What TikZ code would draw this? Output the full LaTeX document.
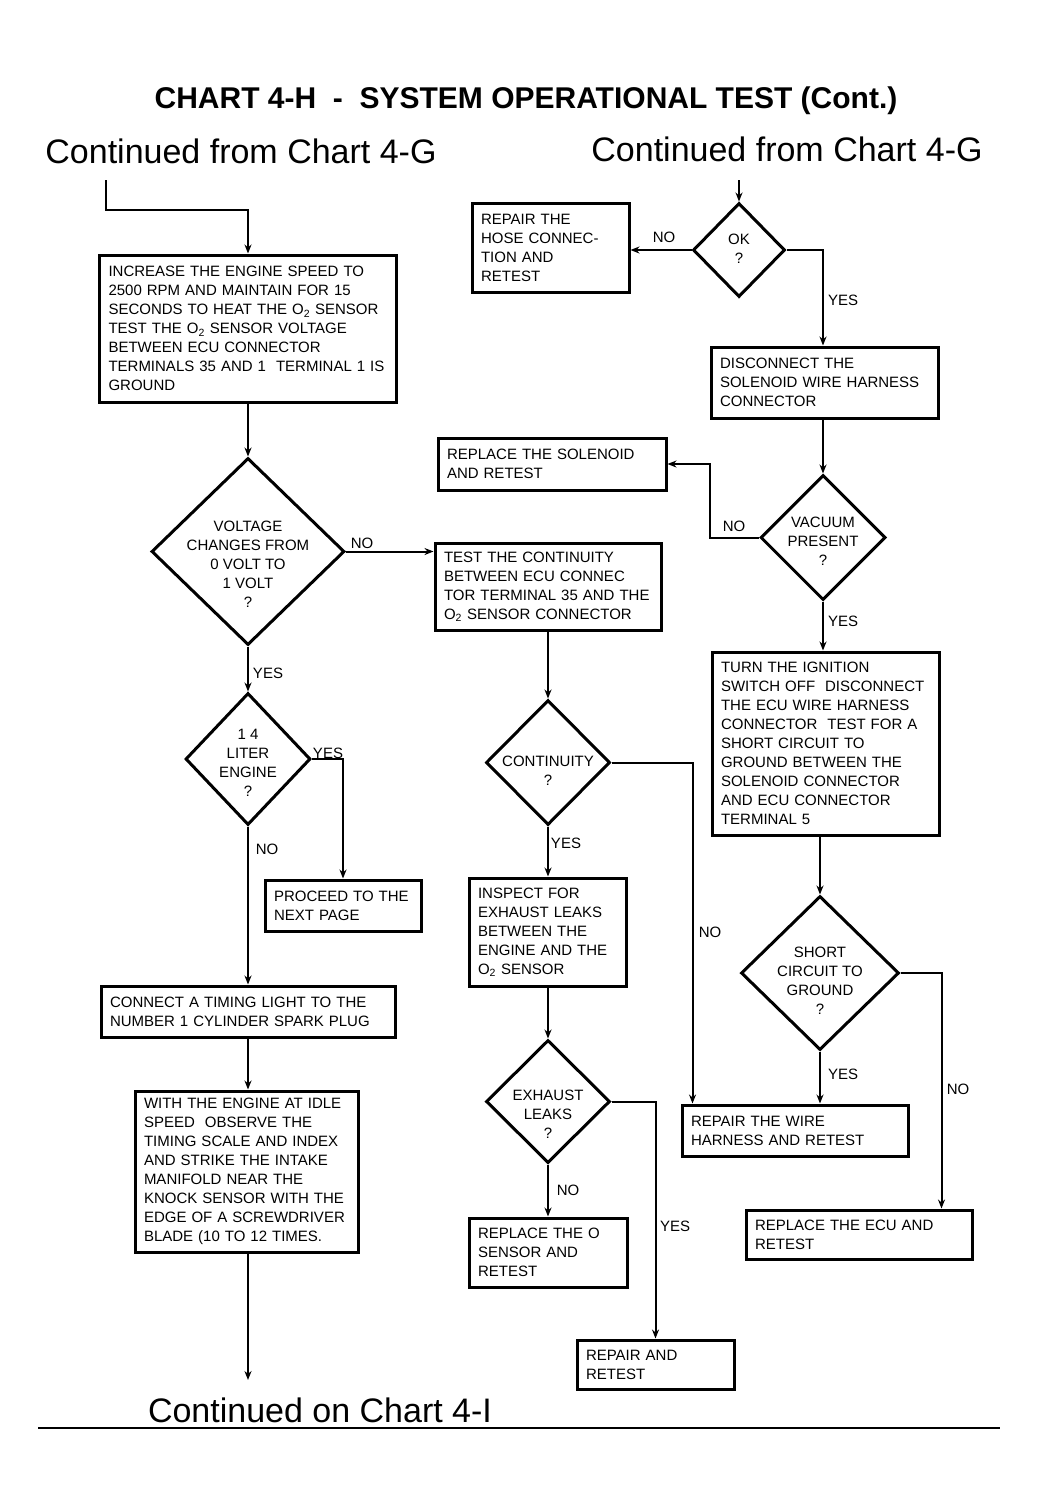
\documentclass[tikz,border=0pt]{standalone}
\usepackage{fontspec}
\setmainfont{Liberation Sans}
\usetikzlibrary{shapes.geometric,arrows.meta,calc}
\tikzset{
  boxtext/.style={font=\fontsize{15}{19}\selectfont},
  box/.style={draw, line width=3pt, rectangle, align=left, inner xsep=9pt, inner ysep=0pt, boxtext},
  dia/.style={draw, line width=3pt, diamond, inner sep=0pt},
  dtext/.style={align=center, boxtext, inner sep=0pt},
  lbl/.style={boxtext, inner sep=0pt},
  conn/.style={line width=2pt},
  arr/.style={conn, -{Stealth[length=9pt,width=7pt]}},
  bigtext/.style={font=\fontsize{34}{40}\selectfont, inner sep=0pt},
}
\begin{document}
\begin{tikzpicture}[x=1pt,y=-1pt]
\useasboundingbox (0,0) rectangle (1039,1504);
\fill[white] (0,0) rectangle (1039,1504);

% titles
\node[font=\fontsize{30}{36}\selectfont\bfseries, inner sep=0pt] (title) at (526,101) {CHART 4-H \ - \ SYSTEM OPERATIONAL TEST (Cont.)};
\node[bigtext] (cl) at (241,151) {Continued from Chart 4-G};
\node[bigtext] (cr) at (787,149) {Continued from Chart 4-G};
\node[bigtext] (cb) at (320,1410) {Continued on Chart 4-I};
\coordinate (r1) at (38,1428);
\coordinate (r2) at (1000,1428);
\draw[line width=1.2pt] (r1) -- (r2);

% left column
\coordinate (s1) at (106,180);
\node[box, minimum width=297pt, minimum height=147pt, text width=279pt] (A) at (248,328.5) {INCREASE THE ENGINE SPEED TO\\2500 RPM AND MAINTAIN FOR 15\\SECONDS TO HEAT THE O\textsubscript{2} SENSOR\\TEST THE O\textsubscript{2} SENSOR VOLTAGE\\BETWEEN ECU CONNECTOR\\TERMINALS 35 AND 1 \ TERMINAL 1 IS\\GROUND};
\node[dia, minimum width=193pt, minimum height=187pt] (V) at (248,551.5) {};
\node[dtext] (Vt) at (248,564) {VOLTAGE\\CHANGES FROM\\0 VOLT TO\\1 VOLT\\?};
\node[dia, minimum width=125pt, minimum height=132pt] (L) at (248,759) {};
\node[dtext] (Lt) at (248,763) {1 4\\LITER\\ENGINE\\?};
\node[box, minimum width=156pt, minimum height=51pt, text width=138pt] (P) at (343,905.5) {PROCEED TO THE\\NEXT PAGE};
\node[box, minimum width=294pt, minimum height=51pt, text width=276pt] (C) at (248,1011.5) {CONNECT A TIMING LIGHT TO THE\\NUMBER 1 CYLINDER SPARK PLUG};
\node[box, minimum width=223pt, minimum height=161pt, text width=205pt] (W) at (246.5,1171.5) {WITH THE ENGINE AT IDLE\\SPEED \ OBSERVE THE\\TIMING SCALE AND INDEX\\AND STRIKE THE INTAKE\\MANIFOLD NEAR THE\\KNOCK SENSOR WITH THE\\EDGE OF A SCREWDRIVER\\BLADE (10 TO 12 TIMES.};
\coordinate (e1) at (248,1380);

% middle column
\node[box, minimum width=226pt, minimum height=87pt, text width=208pt] (T) at (548,586.5) {TEST THE CONTINUITY\\BETWEEN ECU CONNEC\\TOR TERMINAL 35 AND THE\\O\textsubscript{2} SENSOR CONNECTOR};
\node[dia, minimum width=124pt, minimum height=125pt] (Co) at (548,762.5) {};
\node[dtext] (Cot) at (548,771) {CONTINUITY\\?};
\node[box, minimum width=157pt, minimum height=108pt, text width=139pt] (I) at (547.5,932) {INSPECT FOR\\EXHAUST LEAKS\\BETWEEN THE\\ENGINE AND THE\\O\textsubscript{2} SENSOR};
\node[dia, minimum width=124pt, minimum height=123pt] (E) at (548,1101.5) {};
\node[dtext] (Et) at (548,1114) {EXHAUST\\LEAKS\\?};
\node[box, minimum width=158pt, minimum height=69pt, text width=140pt] (RO) at (548,1252.5) {REPLACE THE O\\SENSOR AND\\RETEST};
\node[box, minimum width=157pt, minimum height=49pt, text width=139pt] (RA) at (655.5,1364.5) {REPAIR AND\\RETEST};

% right column
\coordinate (s2) at (739,180);
\node[dia, minimum width=92pt, minimum height=94pt] (OK) at (739,250) {};
\node[dtext] (OKt) at (739,249) {OK\\?};
\node[box, minimum width=157pt, minimum height=89pt, text width=139pt] (H) at (550.5,247.5) {REPAIR THE\\HOSE CONNEC-\\TION AND\\RETEST};
\node[box, minimum width=227pt, minimum height=71pt, text width=209pt] (D) at (824.5,382.5) {DISCONNECT THE\\SOLENOID WIRE HARNESS\\CONNECTOR};
\node[box, minimum width=228pt, minimum height=52pt, text width=210pt] (RS) at (552,464) {REPLACE THE SOLENOID\\AND RETEST};
\node[dia, minimum width=125pt, minimum height=125pt] (Va) at (823,537.5) {};
\node[dtext] (Vat) at (823,541) {VACUUM\\PRESENT\\?};
\node[box, minimum width=227pt, minimum height=183pt, text width=209pt] (TI) at (825.5,743.5) {TURN THE IGNITION\\SWITCH OFF \ DISCONNECT\\THE ECU WIRE HARNESS\\CONNECTOR \ TEST FOR A\\SHORT CIRCUIT TO\\GROUND BETWEEN THE\\SOLENOID CONNECTOR\\AND ECU CONNECTOR\\TERMINAL 5};
\node[dia, minimum width=158pt, minimum height=154pt] (S) at (820,973) {};
\node[dtext] (St) at (820,981) {SHORT\\CIRCUIT TO\\GROUND\\?};
\node[box, minimum width=226pt, minimum height=51pt, text width=208pt] (RW) at (795,1130.5) {REPAIR THE WIRE\\HARNESS AND RETEST};
\node[box, minimum width=226pt, minimum height=49pt, text width=208pt] (RE) at (859,1234.5) {REPLACE THE ECU AND\\RETEST};

% connectors left
\draw[arr] (s1) -- ++(0,30) -| (A.north);
\draw[arr] (A.south) -- (V.north);
\draw[arr] (V.east) -- (V.east -| T.west);
\draw[arr] (V.south) -- (L.north);
\draw[arr] (L.east) -| (P.north);
\draw[arr] (L.south) -- (C.north);
\draw[arr] (C.south) -- (C.south |- W.north);
\draw[arr] (W.south -| C.south) -- (e1);

% connectors middle
\draw[arr] (T.south) -- (Co.north);
\draw[arr] (Co.south) -- (Co.south |- I.north);
\draw[arr] (Co.east) -| ([xshift=12pt]RW.north west);
\draw[arr] (I.south -| E.north) -- (E.north);
\draw[arr] (E.south) -- (RO.north);
\draw[arr] (E.east) -| (RA.north);

% connectors right
\draw[arr] (s2) -- (OK.north);
\draw[arr] (OK.west) -- (OK.west -| H.east);
\draw[arr] (OK.east) -| (D.north -| Va.north);
\draw[arr] (D.south -| Va.north) -- (Va.north);
\draw[arr] (Va.west) -- ++(-49,0) |- (RS.east);
\draw[arr] (Va.south) -- (Va.south |- TI.north);
\draw[arr] (TI.south -| S.north) -- (S.north);
\draw[arr] (S.south) -- (S.south |- RW.north);
\draw[arr] (S.east) -| ([xshift=-32pt]RE.north east);

% labels
\node[lbl] (l1) at (362,543) {NO};
\node[lbl] (l2) at (268,673) {YES};
\node[lbl] (l3) at (328,753) {YES};
\node[lbl] (l4) at (267,849) {NO};
\node[lbl] (l5) at (566,843) {YES};
\node[lbl] (l6) at (710,932) {NO};
\node[lbl] (l7) at (568,1190) {NO};
\node[lbl] (l8) at (675,1226) {YES};
\node[lbl] (l9) at (664,237) {NO};
\node[lbl] (l10) at (843,300) {YES};
\node[lbl] (l11) at (734,526) {NO};
\node[lbl] (l12) at (843,621) {YES};
\node[lbl] (l13) at (843,1074) {YES};
\node[lbl] (l14) at (958,1089) {NO};
\end{tikzpicture}
\end{document}
